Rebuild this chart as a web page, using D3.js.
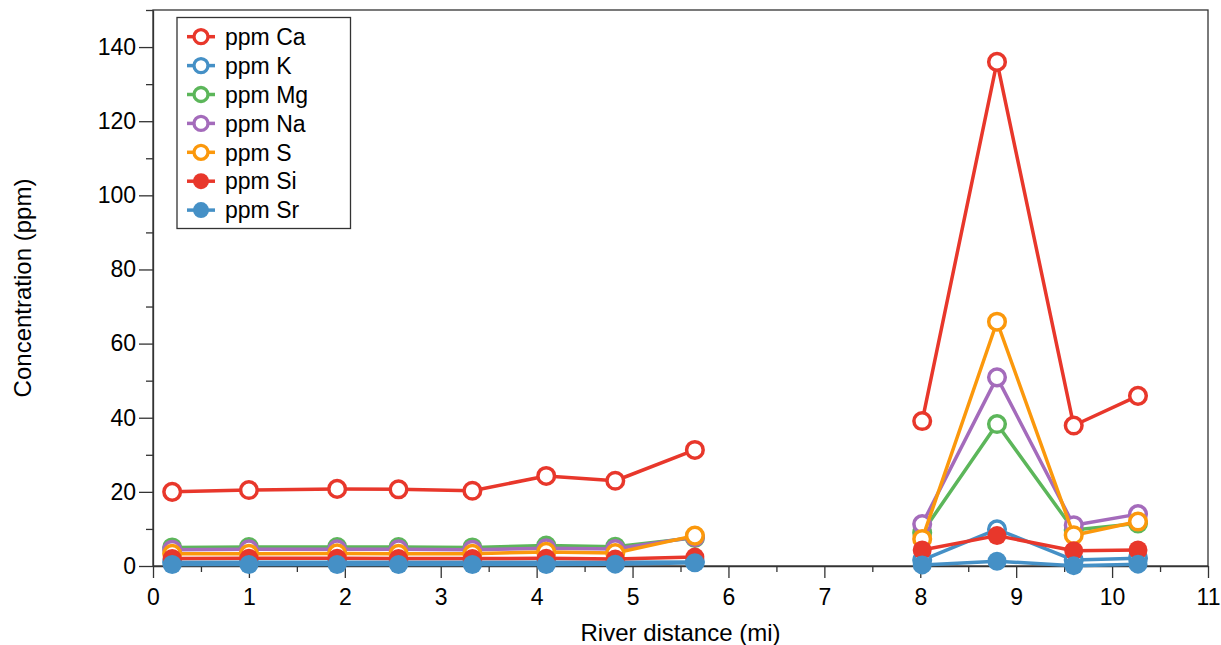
<!DOCTYPE html>
<html>
<head>
<meta charset="utf-8">
<script src="https://cdn.jsdelivr.net/npm/d3@7/dist/d3.min.js"></script>
<style>
  html, body { margin: 0; padding: 0; background: #fff; }
  svg { display: block; font-family: "Liberation Sans", Arial, Helvetica, sans-serif; }
</style>
</head>
<body>
<svg id="chart" width="1221" height="645"></svg>
<script>
const distance = [0.2, 1.0, 1.92, 2.56, 3.33, 4.1, 4.82, 5.65, 8.02, 8.8, 9.6, 10.27];
const seriesNames = ["ppm Ca", "ppm K", "ppm Mg", "ppm Na", "ppm S", "ppm Si", "ppm Sr"];
const ca = [20.0, 20.5, 20.8, 20.7, 20.3, 24.3, 23.0, 31.3, 39.1, 136.0, 37.9, 45.9];
const k  = [1.0, 1.0, 1.0, 1.0, 1.0, 1.0, 1.0, 1.1, 1.6, 9.9, 1.6, 2.1];
const mg = [5.0, 5.1, 5.1, 5.1, 5.0, 5.5, 5.2, 7.6, 9.0, 38.3, 9.7, 11.5];
const na = [4.4, 4.5, 4.5, 4.5, 4.4, 4.8, 4.6, 7.8, 11.3, 50.9, 11.0, 14.0];
const s  = [3.3, 3.3, 3.4, 3.3, 3.3, 3.8, 3.5, 8.2, 7.3, 65.9, 8.3, 12.0];
const si = [2.0, 2.1, 2.1, 2.0, 2.0, 2.1, 1.9, 2.4, 4.3, 8.2, 4.1, 4.3];
const sr = [0.4, 0.4, 0.4, 0.4, 0.4, 0.4, 0.5, 0.9, 0.3, 1.3, 0.1, 0.5];
const seriesValues = [ca, k, mg, na, s, si, sr];
const seriesColors = ["#e8372b", "#4590c6", "#5cb65a", "#a46bbb", "#fb980c", "#e8372b", "#4590c6"];
const seriesFilled = [false, false, false, false, false, true, true];
const xTicks = d3.range(0, 12, 1);
const yTicks = d3.range(0, 160, 20);

const svg = d3.select("#chart");
const m = { left: 153, right: 1208, top: 10, bottom: 566 };
const x = d3.scaleLinear().domain([0, 11]).range([m.left, m.right]);
const y = d3.scaleLinear().domain([0, 150]).range([m.bottom, m.top]);
const FONT = "'Liberation Sans', Arial, Helvetica, sans-serif";

// frame
svg.append("rect").attr("x", m.left).attr("y", m.top)
  .attr("width", m.right - m.left).attr("height", m.bottom - m.top)
  .attr("fill", "none").attr("stroke", "#333").attr("stroke-width", 1.3);

// x axis
const xAxis = svg.append("g").attr("transform", `translate(0,${m.bottom})`);
xAxis.call(d3.axisBottom(x).tickValues(xTicks).tickFormat(d3.format("d")).tickSize(12).tickSizeOuter(0));
const xMinor = svg.append("g").attr("transform", `translate(0,${m.bottom})`);
xMinor.call(d3.axisBottom(x).tickValues(d3.range(0.5, 11, 1)).tickFormat("").tickSize(6).tickSizeOuter(0));
xMinor.select(".domain").remove();

// y axis
const yAxis = svg.append("g").attr("transform", `translate(${m.left},0)`);
yAxis.call(d3.axisLeft(y).tickValues(yTicks).tickFormat(d3.format("d")).tickSize(14).tickSizeOuter(0));
const yMinor = svg.append("g").attr("transform", `translate(${m.left},0)`);
yMinor.call(d3.axisLeft(y).tickValues(d3.range(10, 160, 20)).tickFormat("").tickSize(7).tickSizeOuter(0));
yMinor.select(".domain").remove();

svg.selectAll(".domain").attr("stroke", "#333").attr("stroke-width", 1.3);
svg.selectAll(".tick line").attr("stroke", "#333").attr("stroke-width", 1.3);
xAxis.selectAll(".tick text").attr("font-size", 23).attr("fill", "#000").attr("y", 23)
  .attr("font-family", FONT);
yAxis.selectAll(".tick text").attr("font-size", 23).attr("fill", "#000")
  .attr("font-family", FONT);

// axis titles
svg.append("text").attr("x", (m.left + m.right) / 2 + 0).attr("y", 641)
  .attr("text-anchor", "middle").attr("font-size", 24).attr("font-family", FONT).text("River distance (mi)");
svg.append("text").attr("transform", `translate(31,${288}) rotate(-90)`)
  .attr("text-anchor", "middle").attr("font-size", 24).attr("font-family", FONT).text("Concentration (ppm)");

// series
const segsList = [[0, 8], [8, 12]];
seriesValues.forEach((vals, k_) => {
  const g = svg.append("g");
  segsList.forEach(([a, b]) => {
    g.append("path").datum(vals.slice(a, b).map((v, j) => ({ v, i: a + j })))
      .attr("d", d3.line().x(d => x(distance[d.i])).y(d => y(d.v)))
      .attr("fill", "none").attr("stroke", seriesColors[k_]).attr("stroke-width", 3.5)
      .attr("stroke-linejoin", "round");
  });
  g.selectAll("circle").data(vals).join("circle")
    .attr("cx", (d, i) => x(distance[i])).attr("cy", d => y(d))
    .attr("r", seriesFilled[k_] ? 9.5 : 8.3)
    .attr("fill", seriesFilled[k_] ? seriesColors[k_] : "#fff")
    .attr("stroke", seriesColors[k_]).attr("stroke-width", seriesFilled[k_] ? 0 : 3.5);
});

// legend
const lg = svg.append("g");
lg.append("rect").attr("x", 177).attr("y", 17.5).attr("width", 173.5).attr("height", 211)
  .attr("fill", "#fff").attr("stroke", "#333").attr("stroke-width", 1.3);
seriesNames.forEach((name, i) => {
  const cy = 36.7 + i * 28.9;
  lg.append("line").attr("x1", 187).attr("x2", 215).attr("y1", cy).attr("y2", cy)
    .attr("stroke", seriesColors[i]).attr("stroke-width", 3.5);
  lg.append("circle").attr("cx", 201).attr("cy", cy)
    .attr("r", seriesFilled[i] ? 8 : 7)
    .attr("fill", seriesFilled[i] ? seriesColors[i] : "#fff")
    .attr("stroke", seriesColors[i]).attr("stroke-width", seriesFilled[i] ? 0 : 3.3);
  lg.append("text").attr("x", 225).attr("y", cy).attr("dy", "0.36em")
    .attr("font-size", 23).attr("font-family", FONT).attr("fill", "#000").text(name);
});
</script>
</body>
</html>
